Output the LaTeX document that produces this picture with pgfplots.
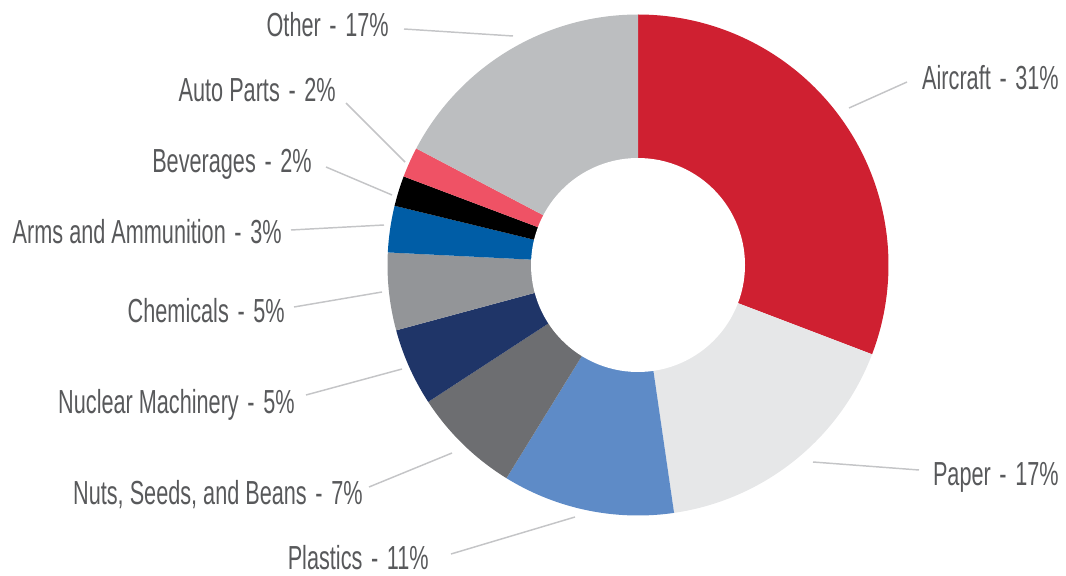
\documentclass[border=0pt]{standalone}
\usepackage{fontspec}
\setmainfont{Liberation Sans}[FakeStretch=0.65]
\usepackage{pgfplots}
\pgfplotsset{compat=1.18}

\definecolor{cAircraft}{HTML}{CF2031}
\definecolor{cPaper}{HTML}{E6E7E8}
\definecolor{cPlastics}{HTML}{5E8BC7}
\definecolor{cNuts}{HTML}{6D6E71}
\definecolor{cNuclear}{HTML}{1F3568}
\definecolor{cChem}{HTML}{939598}
\definecolor{cArms}{HTML}{005DA6}
\definecolor{cBev}{HTML}{000000}
\definecolor{cAuto}{HTML}{EF5265}
\definecolor{cOther}{HTML}{BCBEC0}
\definecolor{textgray}{HTML}{58595B}
\definecolor{linegray}{HTML}{C4C5C7}

\tikzset{
  lbl/.style={font=\fontsize{25}{30}\selectfont, text=textgray, inner sep=0pt},
  ldr/.style={color=linegray, line width=1.1pt}}
\newcommand{\lab}[2]{#1\hspace{6.5pt}-\hspace{6.5pt}#2\%}

% slice shares (percent), cumulative boundaries used as the angular domain
% Aircraft 30.8, Paper 16.9, Plastics 11.1, Nuts 7.0, Nuclear 5.0,
% Chemicals 5.0, Arms 3.0, Beverages 1.95, Auto Parts 1.95, Other 17.3
\newcommand{\slice}[3]{%
  \addplot[fill=#3, draw=none, domain=#1:#2, samples=90]
    ({638+250.5*cos(90-3.6*x)},{310+250.5*sin(90-3.6*x)}) -- (638,310) -- cycle;}

\begin{document}
\begin{tikzpicture}
\useasboundingbox (0,0) rectangle (799.5pt,431.25pt);
\begin{axis}[at={(0,0)}, anchor=south west,
  width=799.5pt, height=431.25pt, scale only axis,
  xmin=0, xmax=1066, ymin=0, ymax=575,
  hide axis, clip=false]

\slice{0}{30.8}{cAircraft}
\slice{30.8}{47.7}{cPaper}
\slice{47.7}{58.8}{cPlastics}
\slice{58.8}{65.8}{cNuts}
\slice{65.8}{70.8}{cNuclear}
\slice{70.8}{75.8}{cChem}
\slice{75.8}{78.8}{cArms}
\slice{78.8}{80.75}{cBev}
\slice{80.75}{82.7}{cAuto}
\slice{82.7}{100}{cOther}

\addplot[fill=white, draw=none, domain=0:360, samples=120]
  ({638+107*cos(x)},{310+107*sin(x)}) -- cycle;

% leader lines
\addplot[ldr, mark=none] coordinates {(404,546) (513,539)};
\addplot[ldr, mark=none] coordinates {(346,472) (405,413)};
\addplot[ldr, mark=none] coordinates {(326,408) (392,380)};
\addplot[ldr, mark=none] coordinates {(291,345) (384,350)};
\addplot[ldr, mark=none] coordinates {(294,268) (382,283)};
\addplot[ldr, mark=none] coordinates {(306,180) (402,206)};
\addplot[ldr, mark=none] coordinates {(369,88) (452,122)};
\addplot[ldr, mark=none] coordinates {(451,21) (575,58)};
\addplot[ldr, mark=none] coordinates {(813,113) (919,105)};
\addplot[ldr, mark=none] coordinates {(849,467) (907,493)};

% labels
\node[lbl, anchor=base east] at (389,538) {\lab{Other}{17}};
\node[lbl, anchor=base east] at (336,473) {\lab{Auto Parts}{2}};
\node[lbl, anchor=base east] at (312,402) {\lab{Beverages}{2}};
\node[lbl, anchor=base east] at (282,331) {\lab{Arms and Ammunition}{3}};
\node[lbl, anchor=base east] at (285,252) {\lab{Chemicals}{5}};
\node[lbl, anchor=base east] at (295,162) {\lab{Nuclear Machinery}{5}};
\node[lbl, anchor=base east] at (363,71) {\lab{Nuts, Seeds, and Beans}{7}};
\node[lbl, anchor=base east] at (429,6) {\lab{Plastics}{11}};
\node[lbl, anchor=base east] at (1059,485) {\lab{Aircraft}{31}};
\node[lbl, anchor=base east] at (1059,90) {\lab{Paper}{17}};
\end{axis}
\end{tikzpicture}
\end{document}
